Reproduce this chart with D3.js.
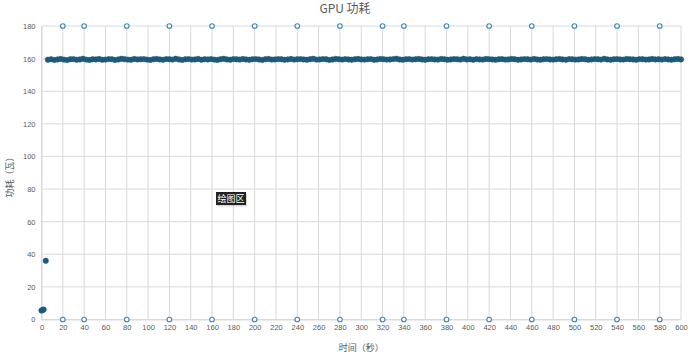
<!DOCTYPE html>
<html>
<head>
<meta charset="utf-8">
<script src="https://cdn.jsdelivr.net/npm/d3@7"></script>
<style>
  body { margin: 0; background: #fff; }
  svg text { font-family: "Liberation Sans", "Noto Sans", sans-serif; }
  .cjk { font-family: "Noto Sans CJK SC", sans-serif; }
</style>
</head>
<body>
<svg id="chart" width="690" height="357"></svg>
<script>
// warm-up readings (seconds, watts)
var startTimes = [0, 1, 2, 4];
var startPower = [5.5, 5.9, 6.1, 36];

// steady state, one reading every 3 s from t = 6
var steadyStart = 6;
var steadyStep = 3;
var steadyPower = [
  159.3, 159.6, 159.2, 159.5, 159.8, 159.4, 159.1, 159.6, 159.7, 159.3,
  159.5, 159.9, 159.4, 159.2, 159.6, 159.5, 159.8, 159.3, 159.4, 159.7,
  159.6, 159.2, 159.5, 159.9, 159.6, 159.4, 159.3, 159.8, 159.5, 159.6,
  159.7, 159.4, 159.2, 159.6, 159.8, 159.5, 159.3, 159.7, 159.6, 159.4,
  159.9, 159.5, 159.2, 159.6, 159.7, 159.4, 159.5, 159.8, 159.3, 159.6,
  159.5, 159.7, 159.4, 159.2, 159.6, 159.9, 159.5, 159.3, 159.7, 159.6,
  159.4, 159.8, 159.5, 159.3, 159.6, 159.7, 159.5, 159.2, 159.6, 159.8,
  159.4, 159.5, 159.7, 159.6, 159.3, 159.5, 159.8, 159.4, 159.6, 159.7,
  159.5, 159.3, 159.6, 159.9, 159.4, 159.5, 159.7, 159.6, 159.2, 159.5,
  159.8, 159.6, 159.4, 159.7, 159.5, 159.3, 159.6, 159.8, 159.5, 159.4,
  159.6, 159.7, 159.3, 159.5, 159.8, 159.6, 159.4, 159.5, 159.7, 159.9,
  159.5, 159.3, 159.6, 159.7, 159.4, 159.6, 159.8, 159.5, 159.3, 159.6,
  159.7, 159.5, 159.4, 159.8, 159.6, 159.3, 159.5, 159.7, 159.6, 159.4,
  159.9, 159.5, 159.6, 159.3, 159.7, 159.5, 159.4, 159.8, 159.6, 159.5,
  159.3, 159.6, 159.7, 159.4, 159.5, 159.8, 159.6, 159.3, 159.5, 159.7,
  159.6, 159.4, 159.8, 159.5, 159.3, 159.6, 159.7, 159.5, 159.4, 159.6,
  159.8, 159.5, 159.3, 159.7, 159.6, 159.4, 159.5, 159.8, 159.6, 159.3,
  159.5, 159.7, 159.6, 159.4, 159.9, 159.5, 159.3, 159.6, 159.7, 159.5,
  159.4, 159.8, 159.6, 159.5, 159.3, 159.7, 159.6, 159.4, 159.5, 159.8,
  159.5, 159.6, 159.4, 159.7, 159.5, 159.3, 159.6, 159.8, 159.5
];

// hollow marker series at top and bottom edge
var markTimes = [20, 40, 80, 120, 160, 200, 240, 280, 320, 340, 380, 420, 460, 500, 540, 580];
var markLevels = [180, 0];

var xTicks = d3.range(0, 601, 20);
var yTicks = d3.range(0, 181, 20);

var svg = d3.select('#chart');
var margin = { left: 41.5, right: 9, top: 26, bottom: 37.5 };
var width = 690, height = 357;

var x = d3.scaleLinear().domain([0, 600]).range([margin.left, width - margin.right]);
var y = d3.scaleLinear().domain([0, 180]).range([height - margin.bottom, margin.top]);

// grid
var grid = svg.append('g').attr('class', 'grid');
grid.selectAll('line.v').data(xTicks).enter().append('line')
  .attr('x1', function(d){ return x(d); }).attr('x2', function(d){ return x(d); })
  .attr('y1', y(180)).attr('y2', y(0))
  .attr('stroke', '#d9d9d9').attr('stroke-width', 1);
grid.selectAll('line.h').data(yTicks).enter().append('line')
  .attr('x1', x(0)).attr('x2', x(600))
  .attr('y1', function(d){ return y(d); }).attr('y2', function(d){ return y(d); })
  .attr('stroke', '#d9d9d9').attr('stroke-width', 1);

// axes
var xAxis = d3.axisBottom(x).tickValues(xTicks).tickSize(0).tickPadding(5);
var yAxis = d3.axisLeft(y).tickValues(yTicks).tickSize(0).tickPadding(6);

var gx = svg.append('g').attr('transform', 'translate(0,' + y(0) + ')').call(xAxis);
var gy = svg.append('g').attr('transform', 'translate(' + x(0) + ',0)').call(yAxis);
[gx, gy].forEach(function(g){
  g.select('.domain').attr('stroke', '#d9d9d9');
  g.selectAll('text').attr('fill', '#595959').style('font-size', '7.5px')
    .style('font-family', '"Liberation Sans", sans-serif');
});

// data
var points = [];
startTimes.forEach(function(t, i){ points.push({ t: t, v: startPower[i] }); });
steadyPower.forEach(function(v, i){ points.push({ t: steadyStart + i * steadyStep, v: v }); });

svg.append('g').selectAll('circle').data(points).enter().append('circle')
  .attr('cx', function(d){ return x(d.t); })
  .attr('cy', function(d){ return y(d.v); })
  .attr('r', 2.7)
  .attr('fill', '#1d5a79')
  .attr('stroke', '#1d5a79').attr('stroke-width', 0.6);

var marks = [];
markLevels.forEach(function(lv){
  markTimes.forEach(function(t){ marks.push({ t: t, v: lv }); });
});
svg.append('g').selectAll('circle').data(marks).enter().append('circle')
  .attr('cx', function(d){ return x(d.t); })
  .attr('cy', function(d){ return y(d.v); })
  .attr('r', 2.3)
  .attr('fill', '#fff')
  .attr('stroke', '#3f83b5').attr('stroke-width', 1.1);

// titles
svg.append('text').attr('class', 'cjk')
  .attr('x', width / 2).attr('y', 13)
  .attr('text-anchor', 'middle').attr('fill', '#595959')
  .style('font-size', '12px').text('GPU 功耗');

svg.append('text').attr('class', 'cjk')
  .attr('x', (x(0) + x(600)) / 2).attr('y', 351)
  .attr('text-anchor', 'middle').attr('fill', '#595959')
  .style('font-size', '9px').text('时间（秒）');

svg.append('text').attr('class', 'cjk')
  .attr('transform', 'translate(13,' + 175 + ') rotate(-90)')
  .attr('text-anchor', 'middle').attr('fill', '#595959')
  .style('font-size', '9px').text('功耗（瓦）');

// hover label "绘图区"
var tip = svg.append('g').attr('transform', 'translate(216,192)');
tip.append('rect').attr('x', 1).attr('y', 1.5).attr('width', 30).attr('height', 13)
  .attr('fill', '#000').attr('opacity', 0.15);
tip.append('rect').attr('width', 30).attr('height', 13).attr('fill', '#222');
tip.append('text').attr('class', 'cjk')
  .attr('x', 15).attr('y', 10).attr('text-anchor', 'middle')
  .attr('fill', '#fff').style('font-size', '9px').text('绘图区');
</script>
</body>
</html>
